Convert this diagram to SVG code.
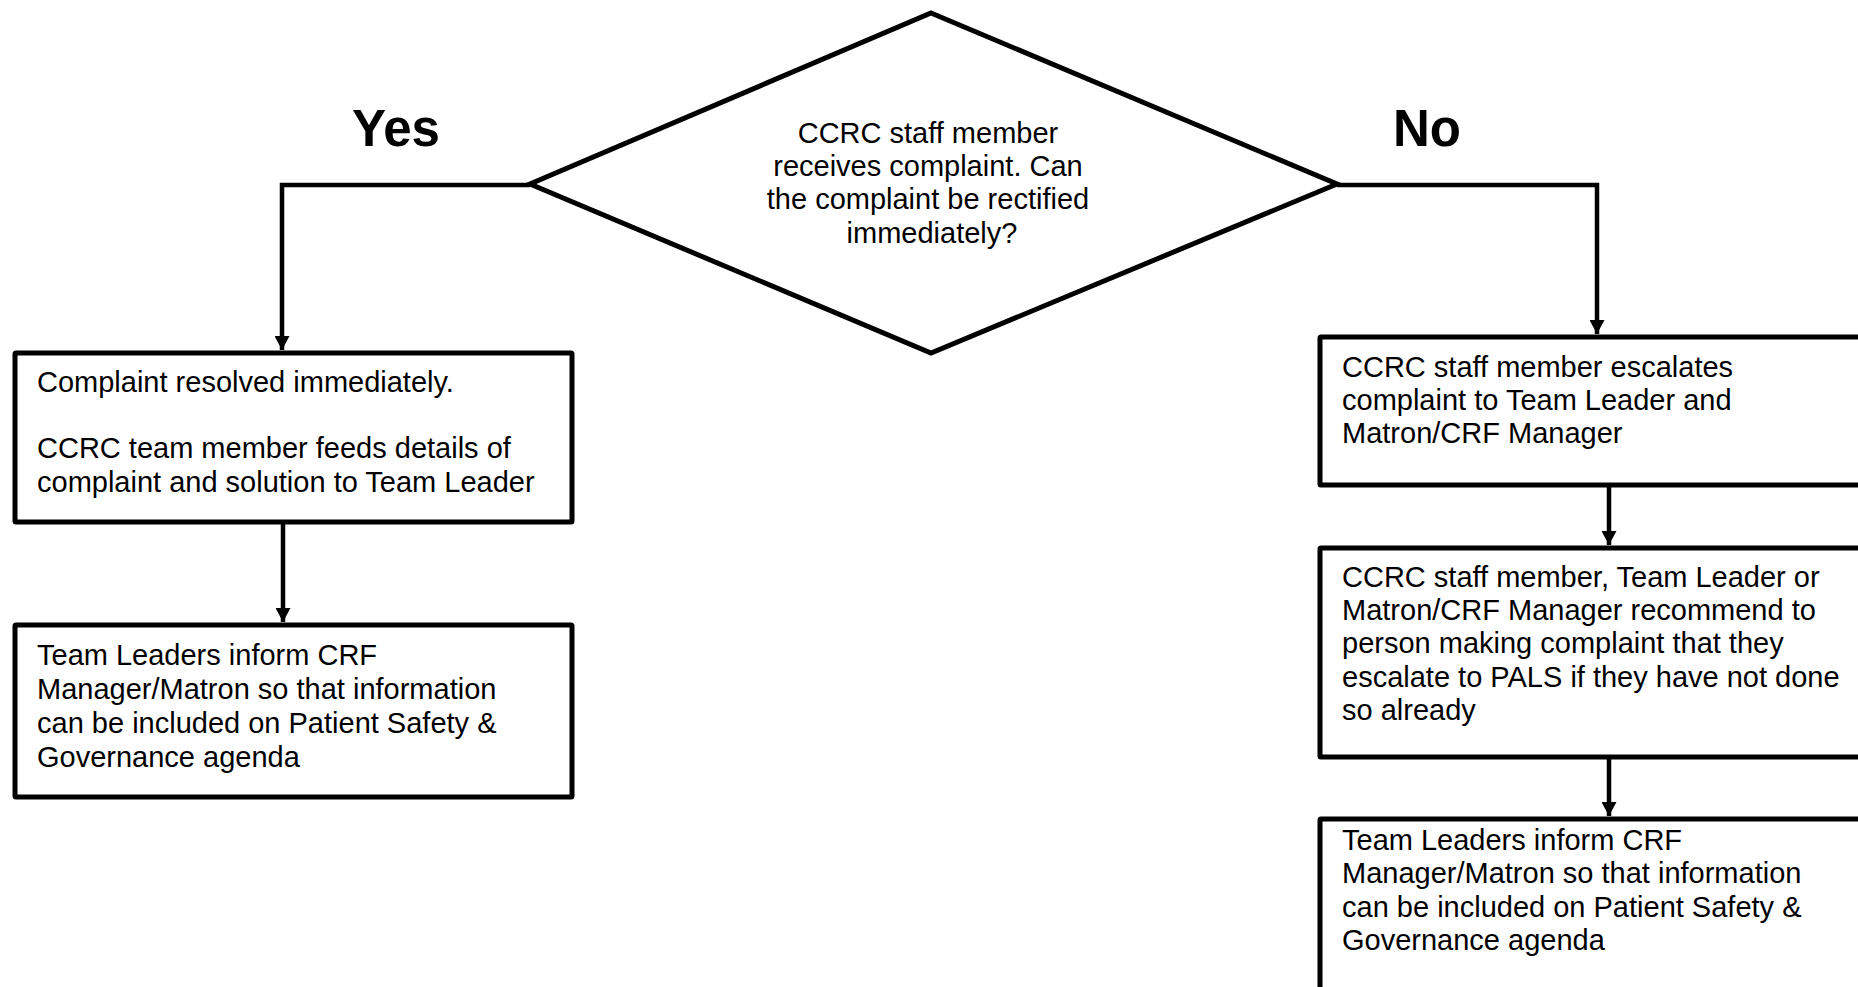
<svg xmlns="http://www.w3.org/2000/svg" width="1858" height="987" viewBox="0 0 1858 987">
<style>
.box{fill:#fff;stroke:#000;stroke-width:5}
.t{font-family:"Liberation Sans",Arial,sans-serif;font-size:29px;fill:#000}
.lbl{font-family:"Liberation Sans",Arial,sans-serif;font-size:51px;font-weight:bold;fill:#000}
.c{fill:none;stroke:#000;stroke-width:4.5}
</style>
<defs>
<marker id="ah" viewBox="0 0 14 15" refX="14" refY="7.5" markerWidth="14" markerHeight="15" markerUnits="userSpaceOnUse" orient="auto">
<path d="M0,0 L14,7.5 L0,15 z" fill="#000"/>
</marker>
</defs>
<rect width="1858" height="987" fill="#fff"/>
<g id="labels">
<text class="lbl" x="352" y="146">Yes</text>
<text class="lbl" x="1393" y="146">No</text>
</g>
<g id="connectors">
<path class="c" d="M530,185 H282 V350" marker-end="url(#ah)"/>
<path class="c" d="M283,522 V622" marker-end="url(#ah)"/>
<path class="c" d="M1337,185 H1597 V334" marker-end="url(#ah)"/>
<path class="c" d="M1609,485 V545" marker-end="url(#ah)"/>
<path class="c" d="M1609,757 V816" marker-end="url(#ah)"/>
</g>
<g id="decision">
<polygon class="box" points="931,13 1337,184 931,353 530,184"/>
<text class="t" text-anchor="middle">
<tspan x="932" y="143">CCRC staff member</tspan>
<tspan x="932" y="176">receives complaint. Can</tspan>
<tspan x="932" y="209">the complaint be rectified</tspan>
<tspan x="932" y="243">immediately?</tspan>
</text>
</g>
<g id="resolved">
<rect class="box" x="15" y="353" width="557" height="169" rx="1"/>
<text class="t">
<tspan x="37" y="392">Complaint resolved immediately.</tspan>
<tspan x="37" y="458">CCRC team member feeds details of</tspan>
<tspan x="37" y="492">complaint and solution to Team Leader</tspan>
</text>
</g>
<g id="inform-left">
<rect class="box" x="15" y="625" width="557" height="172" rx="1"/>
<text class="t">
<tspan x="37" y="665">Team Leaders inform CRF</tspan>
<tspan x="37" y="699">Manager/Matron so that information</tspan>
<tspan x="37" y="733">can be included on Patient Safety &amp;</tspan>
<tspan x="37" y="767">Governance agenda</tspan>
</text>
</g>
<g id="escalate">
<rect class="box" x="1320" y="337" width="560" height="148" rx="1"/>
<text class="t">
<tspan x="1342" y="377">CCRC staff member escalates</tspan>
<tspan x="1342" y="410">complaint to Team Leader and</tspan>
<tspan x="1342" y="443">Matron/CRF Manager</tspan>
</text>
</g>
<g id="recommend">
<rect class="box" x="1320" y="548" width="560" height="209" rx="1"/>
<text class="t">
<tspan x="1342" y="587">CCRC staff member, Team Leader or</tspan>
<tspan x="1342" y="620">Matron/CRF Manager recommend to</tspan>
<tspan x="1342" y="653">person making complaint that they</tspan>
<tspan x="1342" y="687">escalate to PALS if they have not done</tspan>
<tspan x="1342" y="720">so already</tspan>
</text>
</g>
<g id="inform-right">
<rect class="box" x="1320" y="819" width="560" height="200" rx="1"/>
<text class="t">
<tspan x="1342" y="850">Team Leaders inform CRF</tspan>
<tspan x="1342" y="883">Manager/Matron so that information</tspan>
<tspan x="1342" y="917">can be included on Patient Safety &amp;</tspan>
<tspan x="1342" y="950">Governance agenda</tspan>
</text>
</g>
</svg>
